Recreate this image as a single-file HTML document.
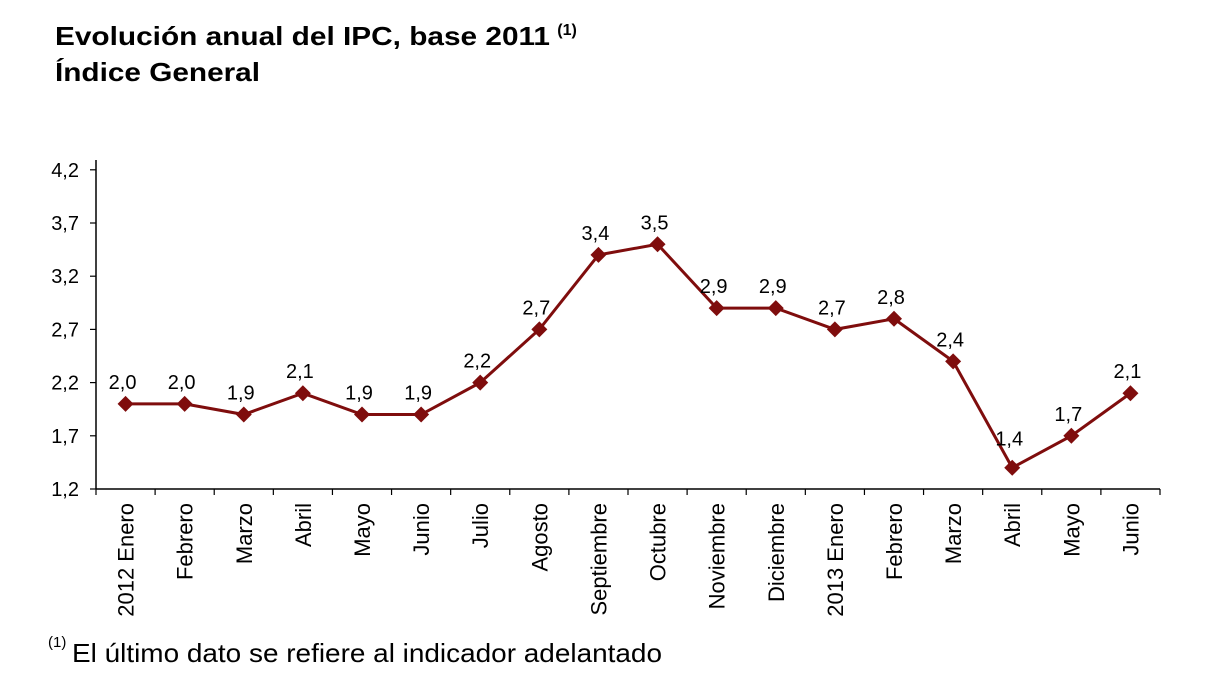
<!DOCTYPE html>
<html><head><meta charset="utf-8"><style>
body{margin:0;background:#fff;}
svg{display:block;font-family:"Liberation Sans",Arial,sans-serif;}
</style></head><body>
<svg width="1226" height="693" viewBox="0 0 1226 693">
<text x="55" y="45" font-size="26" font-weight="bold"><tspan textLength="495" lengthAdjust="spacingAndGlyphs">Evolución anual del IPC, base 2011</tspan> <tspan font-size="16" dy="-10">(1)</tspan></text>
<text x="55" y="81" font-size="26" font-weight="bold" textLength="205" lengthAdjust="spacingAndGlyphs">Índice General</text>
<g stroke="#000" stroke-width="1.5">
<line x1="96" y1="160" x2="96" y2="489"/>
<line x1="96" y1="489" x2="1160" y2="489"/>
</g>
<g id="yt" stroke="#000" stroke-width="1.2"></g>
<g id="yl" font-size="20" text-anchor="end"></g>
<g id="xt" stroke="#000" stroke-width="1.2"></g>
<g id="xl" font-size="22"></g>
<polyline id="ln" fill="none" stroke="#7f0d0d" stroke-width="3"/>
<g id="mk" fill="#7f0d0d"></g>
<g id="dl" font-size="20" text-anchor="middle"></g>
<text x="48" y="647" font-size="15">(1)</text>
<text x="72" y="662" font-size="26" textLength="590" lengthAdjust="spacingAndGlyphs">El último dato se refiere al indicador adelantado</text>
</svg>
<script>
var ns="http://www.w3.org/2000/svg";
function el(p,t,a,txt){var e=document.createElementNS(ns,t);for(var k in a)e.setAttribute(k,a[k]);if(txt)e.textContent=txt;document.getElementById(p).appendChild(e);return e;}
function Y(v){return 489-(v-1.2)*106.4;}
["1,2","1,7","2,2","2,7","3,2","3,7","4,2"].forEach(function(s,i){var v=1.2+0.5*i,y=Y(v);
el("yt","line",{x1:90,x2:96,y1:y,y2:y});el("yl","text",{x:79,y:y+7},s);});
var labs=["2012 Enero","Febrero","Marzo","Abril","Mayo","Junio","Julio","Agosto","Septiembre","Octubre","Noviembre","Diciembre","2013 Enero","Febrero","Marzo","Abril","Mayo","Junio"];
var vals=[2.0,2.0,1.9,2.1,1.9,1.9,2.2,2.7,3.4,3.5,2.9,2.9,2.7,2.8,2.4,1.4,1.7,2.1];
var w=(1160-96)/18,pts=[];
for(var i=0;i<=18;i++){var x=96+w*i;el("xt","line",{x1:x,x2:x,y1:489,y2:495});}
labs.forEach(function(s,i){var x=96+w*(i+0.5);
el("xl","text",{x:0,y:0,transform:"translate("+(x+8)+",503) rotate(-90)","text-anchor":"end"},s);
var y=Y(vals[i]);pts.push(x+","+y);
el("mk","polygon",{points:(x)+","+(y-8)+" "+(x+8)+","+y+" "+x+","+(y+8)+" "+(x-8)+","+y});
el("dl","text",{x:x-3,y:y-(i==15?22:15)},vals[i].toFixed(1).replace(".",","));});
document.getElementById("ln").setAttribute("points",pts.join(" "));
</script>
</body></html>
